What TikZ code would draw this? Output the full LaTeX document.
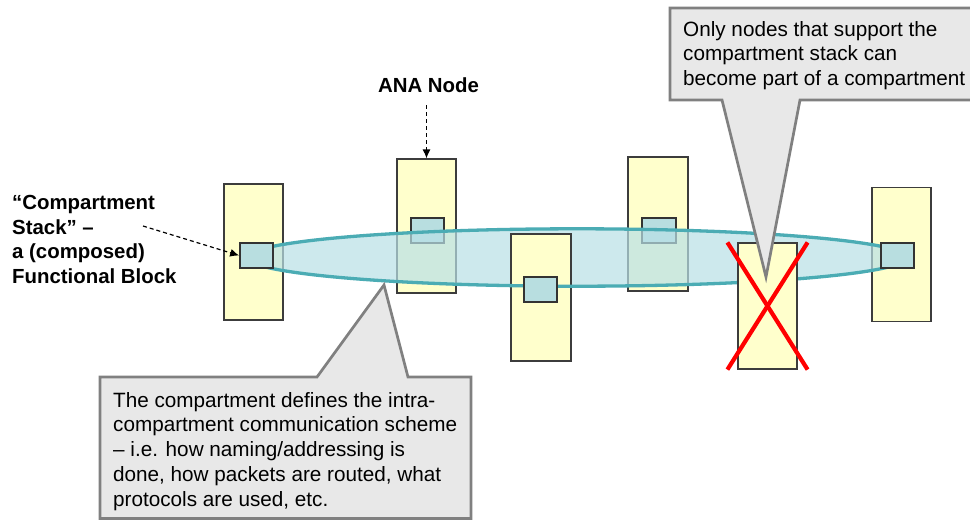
\documentclass[tikz,border=0pt]{standalone}
\usepackage{fontspec}
\setmainfont{Liberation Sans}
\usetikzlibrary{arrows.meta}

\definecolor{nodeyellow}{RGB}{255,255,204}
\definecolor{stackblue}{RGB}{184,222,224}
\definecolor{compteal}{RGB}{75,172,180}
\definecolor{compfill}{RGB}{184,224,230}
\definecolor{calloutfill}{RGB}{232,232,232}
\definecolor{calloutline}{RGB}{128,128,128}
\definecolor{nodeline}{RGB}{60,60,60}

\tikzset{
  anabox/.style={draw=nodeline, line width=1.2pt, fill=nodeyellow, inner sep=0pt,
    minimum width=59pt},
  stackbox/.style={draw=black!80, line width=1.7pt, fill=stackblue, inner sep=0pt,
    minimum width=33pt, minimum height=25pt},
  dasharrow/.style={draw=black, line width=1.2pt, dash pattern=on 4pt off 3pt,
    -{Latex[length=9pt,width=8pt]}},
  xline/.style={draw=red, line width=4.2pt},
  callout/.style={draw=calloutline, fill=calloutfill, line width=2.7pt, line join=miter},
  bodytext/.style={inner sep=0pt, anchor=north west, align=left,
    font=\fontsize{20.7}{24.7}\selectfont},
  boldtext/.style={inner sep=0pt, align=left,
    font=\fontsize{20.4}{24.5}\selectfont\bfseries},
}

\begin{document}
\begin{tikzpicture}[x=1pt,y=-1pt]
\useasboundingbox (0,0) rectangle (970,520);
\clip (0,0) rectangle (970,520);
\fill[white] (0,0) rectangle (970,520);

% ANA nodes lying under the compartment
\node[anabox, minimum height=136pt] (n1) at (253.5,252) {};
\node[anabox, minimum height=134pt] (n2) at (426.5,226) {};
\node[stackbox] (s2) at (427.5,230.5) {};
\node[anabox, minimum width=60pt, minimum height=134pt] (n4) at (658,224) {};
\node[stackbox, minimum width=34pt] (s4) at (659,230.5) {};
\node[anabox, minimum height=134pt] (n6) at (901.5,254.5) {};

% compartment: translucent fill
\fill[compfill, fill opacity=0.7] (577,257.5) ellipse [x radius=330, y radius=28.7];

% node standing on top of the compartment fill
\node[anabox, minimum width=60pt, minimum height=127pt] (n3) at (541,297.5) {};

% compartment outline
\draw[compteal, line width=3.3pt] (577,257.5) ellipse [x radius=330, y radius=28.7];

% compartment stacks on top
\node[stackbox] (s1) at (256.5,255.5) {};
\node[stackbox] (s3) at (540.5,289.5) {};
\node[stackbox] (s6) at (897.5,255.5) {};

% node without compartment stack, crossed out
\node[anabox, minimum height=126pt] (n5) at (767.5,306) {};
\draw[xline] ([xshift=-10pt]n5.north west) -- ([xshift=10pt]n5.south east);
\draw[xline] ([xshift=10pt]n5.north east) -- ([xshift=-10pt]n5.south west);

% labels with dashed pointers
\node[boldtext, anchor=north] (ana) at (428.5,77.5) {ANA Node};
\coordinate (anatail) at (426.5,105);
\draw[dasharrow] (anatail) -- (n2.north);

\node[boldtext, anchor=north west] (stacklbl) at (12,195.5)
  {“Compartment\\Stack” –\\a (composed)\\Functional Block};
\coordinate (stacktail) at (143,226);
\draw[dasharrow] (stacktail) -- (s1.west);

% callout: supporting nodes
\draw[callout] (670,8) -- (990,8) -- (990,100) -- (800,100) -- (766,277)
  -- (722,100) -- (670,100) -- cycle;
\node[bodytext] (note1) at (683,21)
  {Only nodes that support the\\compartment stack can\\become part of a compartment};

% callout: compartment scheme
\draw[callout] (100,377) -- (317,377) -- (384,285) -- (408,377) -- (471,377)
  -- (471,518.5) -- (100,518.5) -- cycle;
\node[bodytext] (note2) at (113,392)
  {The compartment defines the intra-\\compartment communication scheme\\– i.e. how naming/addressing is\\done, how packets are routed, what\\protocols are used, etc.};
\end{tikzpicture}
\end{document}
